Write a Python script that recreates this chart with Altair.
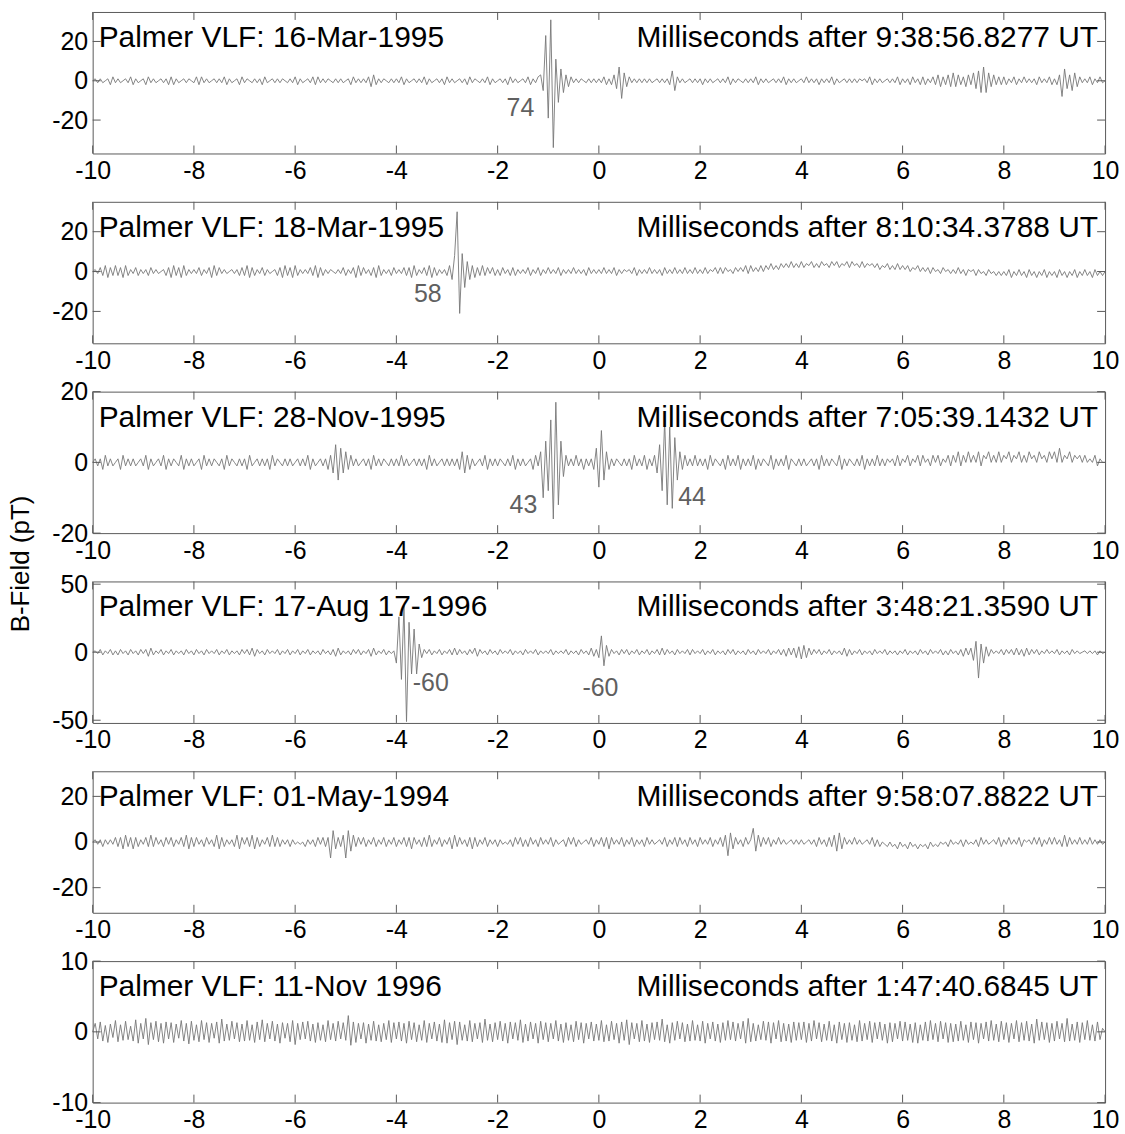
import altair as alt
import pandas as pd

T_START = -10.0
T_STEP = 0.05

# B-field traces (pT), one sample every 0.05 ms from -10 ms to +10 ms
p1 = [
    0, 1, -1, 1, -1, 0, 1, -2, 2, -1, 1, -1, 0, 1, -1, 2, -2, 1, -1, 0,
    1, -2, 2, -1, 1, -1, 0, 1, -1, 1, -2, 2, -2, 1, -1, 0, 1, -1, 1, 0,
    -1, 2, -2, 2, -1, 1, -1, 0, 1, -1, 1, -1, 2, -2, 1, -1, 0, 1, -2, 2,
    -1, 1, 0, -1, 1, -1, 1, -2, 2, -1, 0, 1, -1, 1, -1, 1, 0, -1, 1, -1,
    2, -2, 1, -1, 0, 1, -1, 2, -2, 2, -1, 1, -1, 1, 0, -1, 1, -1, 1, -1,
    0, 1, -2, 2, -1, 1, -1, 1, -1, 2, -3, 3, -2, 1, -1, 1, 0, -1, 1, -1,
    1, -1, 2, -2, 1, -1, 0, 1, -1, 1, -1, 2, -2, 1, -1, 0, 1, -1, 1, -2,
    2, -1, 1, -1, 0, 1, -1, 1, -2, 2, -1, 1, 0, -1, 1, -1, 2, -2, 1, -1,
    0, 1, -1, 1, -2, 2, -1, 1, -1, 0, 1, -1, 2, -2, 1, -1, 2, 3, -5, 23,
    -19, 31, -34, 11, -11, 6, -6, 3, -3, 2, -1, 1, -1, 1, 0, -1, 1, -1, 1, -1,
    1, -1, 2, -2, 1, -2, 3, -4, 7, -9, 4, -3, 2, -1, 1, -1, 1, -1, 1, -1,
    1, -1, 0, 1, -1, 1, -1, 1, -2, 5, -5, 2, -1, 1, -1, 0, 1, -1, 1, -1,
    1, -2, 1, -1, 1, -1, 0, 1, -1, 1, -1, 2, -2, 1, -1, 1, 0, -1, 1, -1,
    1, -1, 2, -2, 1, -1, 1, -1, 0, 1, -1, 1, -1, 2, -2, 1, -1, 1, -1, 0,
    1, -1, 2, -1, 1, -1, 1, -2, 1, -1, 1, -1, 2, -2, 1, -1, 0, 1, -1, 1,
    -1, 1, -1, 1, 0, 1, -1, 2, -2, 1, -1, 1, -1, 0, 1, -1, 1, -1, 2, -2,
    1, -1, 1, -2, 2, -1, 1, -2, 2, -2, 1, -1, 2, -2, 3, -3, 2, -2, 3, -3,
    4, -3, 3, -2, 2, -3, 3, -2, 4, -4, 5, -6, 7, -6, 4, -3, 3, -2, 2, -2,
    2, -2, 1, -1, 2, -2, 1, -1, 2, -1, 1, -1, 1, -2, 2, -1, 1, -1, 2, -2,
    1, -2, 3, -8, 6, -4, 3, -5, 4, -3, 2, -1, 1, -1, 2, -2, 1, -1, 2, -1,
    0,
]
p2 = [
    0, 1, -1, 2, -2, 3, -3, 2, -2, 3, -2, 2, -3, 3, -2, 1, -1, 2, -2, 1,
    -1, 1, -2, 2, -1, 1, -1, 0, 1, -2, 2, -3, 3, -2, 2, -3, 3, -2, 1, -1,
    1, -1, 2, -2, 1, -1, 2, -3, 3, -2, 2, -1, 1, -1, 0, 1, -1, 1, -2, 2,
    -2, 3, -3, 2, -2, 1, -1, 2, -2, 1, -1, 0, 1, -2, 2, -3, 3, -2, 2, -3,
    3, -2, 1, -1, 1, -1, 2, -2, 3, -3, 2, -2, 1, -1, 1, 0, -1, 1, -1, 2,
    -2, 1, -1, 2, -3, 3, -2, 2, -1, 1, -2, 2, -3, 3, -2, 1, -1, 1, -2, 2,
    -1, 1, -1, 2, -2, 2, -3, 3, -2, 1, -1, 2, -2, 3, -3, 2, -2, 1, -1, 1,
    -2, 3, -4, 8, 30, -21, 9, -8, 5, -4, 3, -3, 2, -2, 3, -2, 2, -1, 2, -2,
    1, -2, 2, -1, 1, -2, 2, -2, 1, -1, 1, -1, 2, -2, 1, -1, 2, -2, 1, -1,
    2, -1, 1, -1, 2, -2, 1, -1, 1, -1, 2, -1, 1, -1, 1, -2, 2, -1, 1, -1,
    1, -1, 2, -1, 1, -1, 2, -2, 1, -1, 1, 0, 1, -1, 2, -2, 1, -1, 1, -1,
    2, -1, 1, -1, 1, -2, 2, -1, 1, -1, 2, -1, 1, -1, 2, -1, 1, -1, 2, -1,
    1, -1, 2, -1, 1, 0, 2, -1, 2, -1, 2, 0, 1, -1, 2, 0, 2, 0, 3, -1,
    3, 0, 2, 0, 3, 0, 3, 1, 4, 1, 3, 1, 4, 2, 4, 2, 5, 2, 4, 2,
    5, 2, 4, 3, 5, 2, 4, 2, 5, 3, 4, 2, 5, 3, 5, 2, 4, 3, 5, 2,
    5, 3, 4, 2, 5, 2, 4, 3, 4, 2, 4, 1, 3, 2, 4, 1, 3, 1, 4, 1,
    3, 1, 3, 0, 2, 1, 3, 0, 2, 0, 2, -1, 2, 0, 1, -1, 2, 0, 1, -1,
    1, -1, 2, -1, 1, -2, 1, 0, 1, -2, 1, -1, 0, -2, 1, -1, 0, -2, 0, -2,
    0, -2, 1, -3, 0, -2, 1, -2, 0, -3, 1, -2, 0, -3, 0, -2, 1, -3, 0, -2,
    0, -3, 1, -2, 0, -3, 0, -2, 1, -3, 0, -2, 1, -2, 0, -3, 1, -2, 0, -2,
    0,
]
p3 = [
    0, 1, -1, 1, -2, 2, -1, 1, -1, 0, 1, -2, 2, -1, 1, -1, 1, -1, 0, 1,
    -1, 2, -2, 1, -1, 0, 1, -1, 2, -2, 1, -1, 1, 0, -1, 2, -2, 1, -1, 1,
    -1, 0, 1, -2, 2, -1, 1, -1, 1, 0, -1, 1, -2, 2, -1, 1, 0, -1, 1, -1,
    1, -2, 2, -1, 0, 1, -1, 1, -1, 1, -2, 2, -1, 1, 0, -1, 1, -1, 1, -1,
    0, 1, -1, 1, -1, 2, -2, 1, -1, 0, 1, -1, 1, -2, 2, -3, 5, -5, 4, -3,
    3, -2, 2, -1, 1, -1, 0, 1, -1, 1, -2, 2, -1, 1, -1, 1, 0, -1, 1, -1,
    1, -1, 2, -1, 1, -1, 0, 1, -1, 1, -1, 1, -2, 2, -1, 1, -1, 0, 1, -1,
    1, -1, 1, -1, 1, -2, 3, -3, 2, -2, 1, -1, 0, 1, -1, 2, -2, 1, -1, 1,
    -1, 1, 0, -1, 1, -1, 2, -2, 1, -1, 1, -1, 0, 1, -2, 2, -1, 3, -10, 6,
    -8, 12, -16, 17, -12, 6, -4, 2, -1, 1, -1, 2, -1, 1, -2, 1, -1, 1, -2, 4,
    -7, 9, -5, 3, -2, 1, -1, 1, 0, -1, 1, -1, 1, -2, 2, -1, 1, -1, 2, -2,
    1, -1, 2, -3, 5, -8, 12, -12, 10, -13, 7, -5, 3, -2, 2, -1, 1, -1, 2, -1,
    1, -1, 1, -2, 2, -1, 1, 0, -1, 1, -2, 2, -1, 1, -1, 2, -2, 1, -1, 1,
    -1, 2, -2, 1, -1, 1, 0, -1, 2, -2, 1, -1, 1, -1, 2, -2, 1, 0, -1, 1,
    -1, 1, -1, 0, 1, -1, 1, -2, 2, -1, 1, -1, 1, 0, -1, 2, -2, 1, -1, 1,
    0, -1, 1, -1, 2, -2, 1, -1, 1, -1, 2, -1, 1, -1, 1, 0, 1, -1, 2, -1,
    1, 0, 2, -1, 1, 0, 2, -1, 2, 0, 1, -1, 2, 0, 2, -1, 1, 0, 2, -1,
    2, 0, 3, -1, 2, 0, 3, 0, 2, 0, 3, -1, 2, 1, 3, 0, 2, 0, 3, 0,
    2, 1, 3, 0, 2, 1, 3, 0, 2, 0, 3, 1, 2, 0, 3, 1, 2, 0, 3, 1,
    3, 0, 4, 0, 2, 1, 3, 0, 2, 1, 2, 0, 2, 0, 1, 0, 2, -1, 1, 0,
    0,
]
p4 = [
    0, 1, -1, 2, -2, 1, -1, 2, -2, 1, -2, 2, -1, 1, -2, 2, -1, 1, -2, 2,
    -1, 2, -3, 3, -2, 1, -1, 2, -2, 1, -1, 2, -2, 1, -1, 1, -2, 2, -1, 1,
    -2, 2, -1, 1, -2, 2, -1, 1, -1, 2, -2, 1, -1, 2, -2, 1, -1, 1, -2, 2,
    -1, 2, -2, 3, -3, 2, -1, 1, -2, 2, -1, 1, -1, 2, -2, 1, -1, 2, -2, 1,
    -1, 2, -2, 1, -1, 2, -2, 1, -1, 1, -2, 2, -1, 1, -2, 2, -3, 3, -2, 1,
    -1, 1, -2, 2, -1, 2, -2, 1, -1, 2, -3, 3, -2, 1, -1, 2, -2, 1, -1, 1,
    -8, 26, -20, 34, -51, 22, -16, 17, -16, 6, -4, 2, -1, 2, -2, 1, -1, 2, -2, 1,
    -1, 2, -2, 3, -2, 2, -1, 1, -2, 2, -1, 3, -3, 2, -1, 1, -2, 2, -1, 1,
    -2, 2, -1, 1, -1, 2, -2, 1, -1, 1, -2, 2, -1, 1, -1, 2, -2, 1, -1, 1,
    -1, 2, -2, 1, -1, 1, -1, 2, -2, 1, -1, 1, -2, 2, -1, 1, -2, 3, -3, 2,
    -4, 12, -10, 5, -3, 2, -1, 1, -2, 2, -1, 2, -2, 1, -1, 2, -2, 1, -1, 2,
    -2, 1, -1, 2, -2, 3, -2, 2, -1, 1, -2, 2, -1, 1, -1, 2, -2, 2, -1, 1,
    -1, 2, -2, 1, -1, 2, -2, 1, -1, 1, -2, 2, -1, 2, -2, 1, -1, 1, -2, 2,
    -1, 1, -2, 2, -1, 1, -1, 2, -2, 1, -1, 2, -2, 2, -3, 3, -2, 3, -4, 4,
    -5, 5, -4, 3, -2, 2, -1, 2, -2, 1, -1, 2, -2, 1, -1, 1, -2, 3, -3, 2,
    -2, 1, -1, 2, -2, 1, -1, 1, -2, 2, -1, 1, -1, 2, -2, 1, -1, 1, -2, 1,
    -1, 2, -2, 1, -1, 1, -2, 2, -1, 1, -2, 2, -1, 1, -1, 2, -2, 1, -2, 2,
    -1, 1, -2, 2, -3, 3, -2, 3, -6, 8, -19, 6, -8, 4, -3, 2, -1, 1, -1, 2,
    -2, 2, -1, 2, -2, 3, -2, 2, -3, 3, -2, 2, -1, 2, -2, 1, -1, 2, -1, 1,
    -1, 2, -2, 1, -1, 1, -2, 2, -1, 1, -1, 0, 1, -1, 1, -1, 1, -2, 1, -1,
    0,
]
p5 = [
    0, 1, -1, 1, -2, 1, -1, 1, -1, 2, -2, 2, -3, 3, -2, 2, -3, 2, -2, 1,
    -1, 2, -2, 3, -2, 2, -1, 1, -2, 2, -1, 2, -2, 1, -1, 2, -2, 3, -3, 2,
    -2, 2, -1, 1, -2, 2, -1, 1, -2, 3, -3, 2, -2, 1, -1, 1, -2, 3, -3, 2,
    -1, 2, -2, 3, -3, 2, -2, 1, -1, 2, -2, 3, -2, 2, -2, 1, -1, 1, -2, 1,
    -1, 0, -1, 0, -2, 1, -1, 1, -2, 2, -1, 2, -2, 2, -7, 5, -3, 2, -2, 3,
    -7, 5, -4, 3, -2, 2, -1, 2, -2, 1, -1, 2, -2, 1, -1, 2, -2, 1, -1, 2,
    -2, 1, -1, 2, -2, 2, -3, 2, -1, 1, -2, 2, -2, 3, -2, 1, -1, 2, -2, 1,
    -1, 2, -3, 3, -2, 2, -1, 1, -2, 2, -3, 2, -2, 1, -1, 2, -2, 1, -1, 1,
    -2, 1, -1, 0, -1, 1, -2, 2, -1, 2, -2, 1, -2, 2, -1, 1, -2, 2, -1, 1,
    -1, 2, -2, 1, -1, 0, 1, -2, 2, -1, 2, -2, 1, -1, 0, 1, -1, 2, -2, 1,
    -1, 2, -2, 2, -3, 2, -1, 1, -1, 2, -2, 1, -1, 2, -2, 1, -1, 1, -2, 2,
    -1, 1, -1, 0, 1, -1, 2, -2, 1, -1, 2, -2, 2, -1, 1, -2, 2, -1, 1, -2,
    2, -1, 1, -1, 2, -2, 1, -1, 2, -2, 3, -6, 4, -3, 2, -1, 1, -2, 2, -1,
    1, 6, -4, 3, -2, 2, -1, 2, -2, 1, -1, 2, -1, 1, -1, 0, 1, -1, 1, -1,
    1, -1, 0, 1, -1, 1, -2, 2, -1, 1, -2, 2, -2, 3, -4, 4, -3, 2, -1, 1,
    -1, 2, -1, 1, -1, 0, 1, -1, 2, -2, 1, -2, 0, -1, -2, 0, -2, -1, -3, 0,
    -2, -1, -3, 0, -2, -1, -3, -1, -2, -1, -3, 0, -2, -1, -2, 0, -1, 0, -2, 1,
    -1, 0, -1, 1, -2, 1, -1, 0, -1, 1, -2, 2, -1, 1, -1, 0, 1, -1, 2, -2,
    1, -1, 2, -1, 1, -1, 2, -2, 1, 0, 1, -1, 2, -1, 2, -2, 1, -1, 2, -1,
    2, -1, 1, -2, 3, -2, 2, -1, 1, -1, 2, -1, 1, -1, 2, -1, 1, -1, 1, -1,
    0,
]
p6 = [
    0, 1.2, -1.0, 1.4, -1.3, 0.9, -1.5, 1.1, -0.8, 1.6, -1.4, 1.0, -1.2, 1.5, -1.1, 0.8, -1.3, 1.7, -1.6, 1.2,
    -1.0, 1.9, -1.8, 1.3, -1.1, 1.5, -1.4, 1.2, -1.6, 1.4, -1.0, 1.3, -1.5, 1.1, -0.9, 1.6, -1.3, 1.2, -1.7, 1.5,
    -1.2, 1.0, -1.4, 1.6, -1.1, 1.3, -1.5, 1.2, -0.9, 1.4, -1.6, 1.8, -1.3, 1.1, -1.2, 1.5, -1.0, 1.3, -1.4, 1.1,
    -1.3, 1.6, -1.2, 1.0, -1.5, 1.4, -1.1, 1.7, -1.4, 1.2, -1.0, 1.5, -1.3, 1.1, -1.6, 1.3, -0.9, 1.2, -1.4, 1.6,
    -1.8, 1.2, -1.1, 1.4, -1.0, 1.5, -1.3, 1.1, -1.5, 1.3, -1.2, 1.0, -1.4, 1.6, -1.1, 1.2, -1.3, 1.5, -1.0, 1.3,
    -1.2, 2.3, -1.9, 1.4, -1.5, 1.2, -1.0, 1.3, -1.6, 1.1, -1.2, 1.5, -1.3, 1.0, -1.4, 1.2, -1.1, 1.6, -1.5, 1.3,
    -1.0, 1.4, -1.3, 1.2, -1.6, 1.5, -1.1, 1.3, -1.4, 1.0, -1.2, 1.6, -1.5, 1.2, -1.0, 1.4, -1.3, 1.1, -1.5, 1.7,
    -1.6, 1.3, -1.1, 1.5, -1.8, 1.4, -1.2, 1.0, -1.3, 1.6, -1.4, 1.2, -1.0, 1.3, -1.5, 1.8, -1.2, 1.1, -1.4, 1.3,
    -1.1, 1.5, -1.3, 1.2, -1.6, 1.4, -1.0, 1.3, -1.2, 1.7, -1.5, 1.1, -1.3, 1.4, -1.0, 1.2, -1.6, 1.5, -1.1, 1.3,
    -1.4, 1.2, -1.0, 1.6, -1.3, 1.1, -1.5, 1.3, -1.2, 1.0, -1.4, 1.5, -1.1, 1.3, -1.6, 1.2, -1.0, 1.4, -1.3, 1.1,
    -1.2, 1.6, -1.4, 1.0, -1.3, 1.5, -1.1, 1.2, -1.6, 1.4, -1.2, 1.7, -1.8, 1.3, -1.0, 1.2, -1.4, 1.6, -1.3, 1.1,
    -1.5, 1.3, -1.1, 1.4, -1.2, 1.8, -1.4, 1.0, -1.6, 1.3, -1.2, 1.5, -1.0, 1.3, -1.4, 1.1, -1.3, 1.6, -1.2, 1.0,
    -1.3, 1.5, -1.6, 1.2, -1.0, 1.4, -1.3, 1.1, -1.5, 1.3, -1.2, 1.6, -1.1, 1.4, -1.3, 1.2, -1.0, 1.5, -1.6, 1.9,
    -1.4, 1.2, -1.3, 1.0, -1.1, 1.5, -1.2, 1.4, -1.6, 1.3, -1.0, 1.6, -1.4, 1.2, -1.3, 1.1, -1.5, 1.4, -1.2, 1.3,
    -1.1, 1.4, -1.5, 1.2, -1.3, 1.6, -1.0, 1.3, -1.4, 1.1, -1.2, 1.5, -1.3, 1.0, -1.6, 1.4, -1.1, 1.2, -1.5, 1.3,
    -1.2, 1.0, -1.4, 1.6, -1.3, 1.2, -1.1, 1.5, -1.5, 1.3, -1.0, 1.4, -1.2, 1.1, -1.6, 1.3, -1.4, 1.2, -1.0, 1.5,
    -1.3, 1.4, -1.2, 1.1, -1.5, 1.3, -1.6, 1.0, -1.2, 1.4, -1.3, 1.6, -1.1, 1.2, -1.4, 1.5, -1.0, 1.3, -1.5, 1.2,
    -1.4, 1.1, -1.3, 1.5, -1.2, 1.0, -1.5, 1.4, -1.1, 1.3, -1.6, 1.2, -1.0, 1.4, -1.3, 1.6, -1.2, 1.1, -1.4, 1.5,
    -1.1, 1.3, -1.5, 1.2, -1.0, 1.6, -1.4, 1.3, -1.2, 1.5, -1.3, 1.1, -1.6, 1.8, -1.2, 1.4, -1.1, 1.3, -1.5, 1.2,
    -1.3, 1.5, -1.0, 1.2, -1.4, 1.9, -1.3, 1.1, -1.2, 1.4, -1.5, 1.3, -1.1, 1.6, -1.2, 1.0, -1.3, 1.4, -1.1, 0.5,
    0,
]
traces = [p1, p2, p3, p4, p5, p6]

y_limits = [(-37, 35), (-36, 35), (-20, 20), (-52, 52), (-31, 31), (-10, 10)]
y_ticks = [[-20, 0, 20], [-20, 0, 20], [-20, 0, 20], [-50, 0, 50], [-20, 0, 20], [-10, 0, 10]]
x_ticks = [-10, -8, -6, -4, -2, 0, 2, 4, 6, 8, 10]

dates = [
    "Palmer VLF: 16-Mar-1995",
    "Palmer VLF: 18-Mar-1995",
    "Palmer VLF: 28-Nov-1995",
    "Palmer VLF: 17-Aug 17-1996",
    "Palmer VLF: 01-May-1994",
    "Palmer VLF: 11-Nov 1996",
]
times = [
    "Milliseconds after 9:38:56.8277 UT",
    "Milliseconds after 8:10:34.3788 UT",
    "Milliseconds after 7:05:39.1432 UT",
    "Milliseconds after 3:48:21.3590 UT",
    "Milliseconds after 9:58:07.8822 UT",
    "Milliseconds after 1:47:40.6845 UT",
]

ann_panel = [0, 1, 2, 2, 3, 3]
ann_text = ["74", "58", "43", "44", "-60", "-60"]
ann_x = [-1.55, -3.38, -1.49, 1.84, -3.32, 0.03]
ann_y = [-14, -11.5, -12, -9.7, -22.4, -26]

W = 1016
H = 142
FONT = "Liberation Sans"
LINE = "#767676"
FRAME = "#5a5a5a"
TICK_LEN = 8


def panel(k):
    vals = traces[k]
    df = pd.DataFrame({"t": [T_START + T_STEP * i for i in range(len(vals))], "b": vals})
    xs = alt.Scale(domain=[-10, 10], nice=False, zero=False)
    ys = alt.Scale(domain=list(y_limits[k]), nice=False, zero=False)
    xaxis = alt.Axis(values=x_ticks, title=None, ticks=False, domain=False, grid=False,
                     labelFontSize=25, labelFont=FONT, labelColor="black", labelPadding=5,
                     labelFlush=False, labelOverlap=False, labelExpr="'' + datum.value")
    yaxis = alt.Axis(values=y_ticks[k], title=None, ticks=False, domain=False, grid=False,
                     labelFontSize=25, labelFont=FONT, labelColor="black", labelPadding=5,
                     labelOverlap=False, labelExpr="'' + datum.value")
    X = alt.X("t:Q", scale=xs, axis=xaxis)
    Y = alt.Y("b:Q", scale=ys, axis=yaxis)

    line = alt.Chart(df).mark_line(color=LINE, strokeWidth=0.9).encode(x=X, y=Y)

    xt = pd.DataFrame({"t": x_ticks})
    yt = pd.DataFrame({"b": y_ticks[k]})
    top = alt.Chart(xt).mark_rule(color=FRAME, strokeWidth=1).encode(
        x=X, y=alt.value(0), y2=alt.value(TICK_LEN))
    bot = alt.Chart(xt).mark_rule(color=FRAME, strokeWidth=1).encode(
        x=X, y=alt.value(H), y2=alt.value(H - TICK_LEN))
    left = alt.Chart(yt).mark_rule(color=FRAME, strokeWidth=1).encode(
        y=Y, x=alt.value(0), x2=alt.value(TICK_LEN))
    right = alt.Chart(yt).mark_rule(color=FRAME, strokeWidth=1).encode(
        y=Y, x=alt.value(W), x2=alt.value(W - TICK_LEN))

    t_left = alt.Chart(pd.DataFrame({"s": [dates[k]]})).mark_text(
        align="left", baseline="alphabetic", font=FONT, fontSize=30, color="black"
    ).encode(x=alt.value(6), y=alt.value(35), text="s:N")
    t_right = alt.Chart(pd.DataFrame({"s": [times[k]]})).mark_text(
        align="right", baseline="alphabetic", font=FONT, fontSize=30, color="black"
    ).encode(x=alt.value(W - 7), y=alt.value(35), text="s:N")

    layers = [line, top, bot, left, right, t_left, t_right]

    idx = [i for i, p in enumerate(ann_panel) if p == k]
    if idx:
        adf = pd.DataFrame({"t": [ann_x[i] for i in idx], "b": [ann_y[i] for i in idx],
                            "s": [ann_text[i] for i in idx]})
        layers.append(alt.Chart(adf).mark_text(
            align="center", baseline="middle", font=FONT, fontSize=25, color="#606060"
        ).encode(x=X, y=Y, text="s:N"))

    if k == 2:
        layers.append(alt.Chart(pd.DataFrame({"s": ["B-Field (pT)"]})).mark_text(
            align="center", baseline="middle", font=FONT, fontSize=26, color="black", angle=270
        ).encode(x=alt.value(-72), y=alt.value(173), text="s:N"))

    return alt.layer(*layers).properties(width=W, height=H)


chart = alt.vconcat(*[panel(k) for k in range(6)], spacing=48.5, bounds="flush").configure_view(
    stroke=FRAME, strokeWidth=1
).properties(
    padding={"left": 7, "top": 9, "right": 5, "bottom": 2},
    background="white",
)

chart.save("out.html", embed_options={"renderer": "svg", "actions": False})
